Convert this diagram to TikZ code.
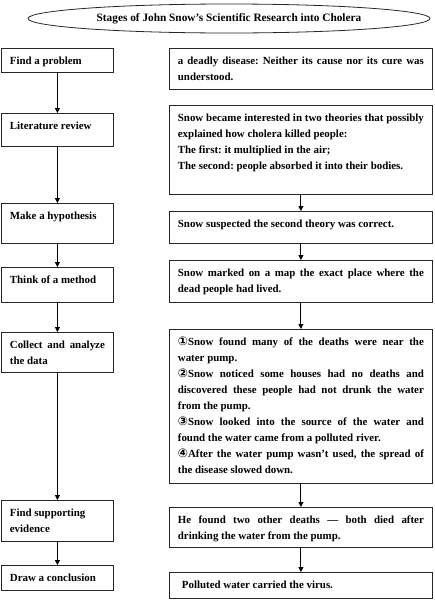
\documentclass[tikz,border=0pt]{standalone}
\usepackage{fontspec}
\setmainfont{Liberation Serif}
\newfontfamily\circfont{DejaVu Sans}
\usetikzlibrary{shapes.geometric,arrows.meta}
\frenchspacing
\newcommand{\bodyfnt}{\fontsize{10.9}{16}\selectfont\bfseries\frenchspacing}
\newcommand{\titlefnt}{\fontsize{11.3}{16}\selectfont\bfseries}
\newcommand{\cn}[1]{{\circfont\fontsize{12}{16}\selectfont #1}}
\newcommand{\bxn}[7]{\node[#1] (#2) at (#3,#4) {\parbox[c][\dimexpr #6pt-9pt\relax][t]{\dimexpr #5pt-17pt\relax}{\frenchspacing\strut #7}};}
\tikzset{
  box/.style={draw=black!85, line width=0.8pt, anchor=north west, inner xsep=8.5pt, inner ysep=4.5pt, font=\bodyfnt},
  arr/.style={draw=black, line width=0.9pt, -{Triangle[length=5pt,width=5pt]}},
  titleell/.style={draw=black!85, line width=0.8pt, ellipse, minimum width=402pt, minimum height=29pt, inner sep=0pt, font=\titlefnt},
}
\begin{document}
\begin{tikzpicture}[x=1pt,y=-1pt]
\useasboundingbox (0,0) rectangle (434,600);
\node[titleell] (title) at (229,18.5) {Stages of John Snow’s Scientific Research into Cholera};
% left column
\bxn{box}{l1}{1}{48}{112}{24}{Find a problem}
\bxn{box}{l2}{1}{113}{112}{33}{Literature review}
\bxn{box}{l3}{1}{203}{112}{40}{Make a hypothesis}
\bxn{box}{l4}{1}{267}{112}{35}{Think of a method}
\bxn{box}{l5}{1}{332}{112}{40}{Collect and analyze\linebreak the data}
\bxn{box}{l6}{1}{500}{112}{41}{Find supporting\newline evidence}
\bxn{box}{l7}{1}{565}{112}{25}{Draw a conclusion}
% right column
\bxn{box}{r1}{169}{48}{263}{41}{a deadly disease: Neither its cause nor its cure was\linebreak understood.}
\bxn{box}{r2}{169}{105}{263}{89}{Snow became interested in two theories that possibly\linebreak explained how cholera killed people:\par The first: it multiplied in the air;\par The second: people absorbed it into their bodies.}
\bxn{box}{r3}{169}{211}{263}{32}{Snow suspected the second theory was correct.}
\bxn{box}{r4}{169}{260}{263}{42}{Snow marked on a map the exact place where the\linebreak dead people had lived.}
\bxn{box}{r5}{169}{329}{263}{154}{\cn{①}Snow found many of the deaths were near the\linebreak water pump.\par \cn{②}Snow noticed some houses had no deaths and\linebreak discovered these people had not drunk the water\linebreak from the pump.\par \cn{③}Snow looked into the source of the water and\linebreak found the water came from a polluted river.\par \cn{④}After the water pump wasn’t used, the spread of\linebreak the disease slowed down.}
\bxn{box}{r6}{169}{507}{263}{40}{He found two other deaths — both died after\linebreak drinking the water from the pump.}
\bxn{box}{r7}{169}{572}{263}{26}{\hspace*{4pt}Polluted water carried the virus.}
% arrows
\draw[arr] (l1) -- (l2);
\draw[arr] (l2) -- (l3);
\draw[arr] (l3) -- (l4);
\draw[arr] (l4) -- (l5);
\draw[arr] (l5) -- (l6);
\draw[arr] (l6) -- (l7);
\draw[arr] (r2) -- (r3);
\draw[arr] (r3) -- (r4);
\draw[arr] (r4) -- (r5);
\draw[arr] (r5) -- (r6);
\draw[arr] (r6) -- (r7);
\end{tikzpicture}
\end{document}
